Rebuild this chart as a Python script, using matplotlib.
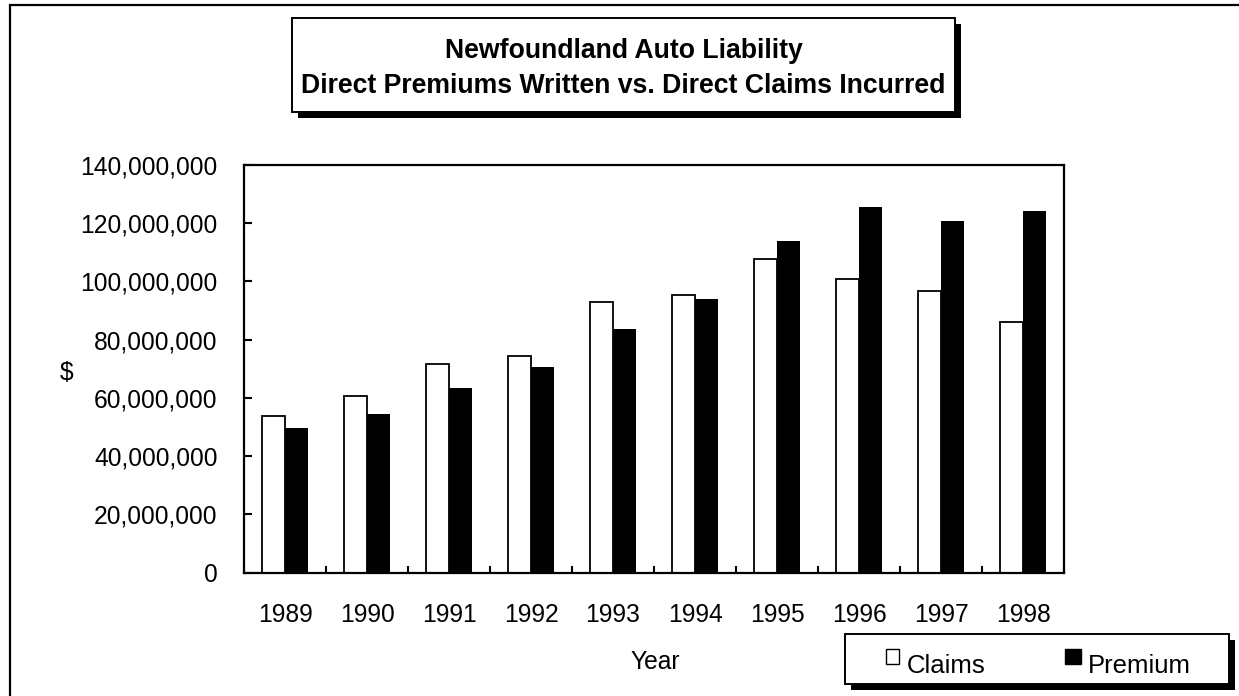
import matplotlib.pyplot as plt
from matplotlib.patches import Rectangle
import numpy as np

plt.rcParams['font.family'] = ['Liberation Sans', 'DejaVu Sans']

years = ['1989', '1990', '1991', '1992', '1993', '1994', '1995', '1996', '1997', '1998']
claims = [53.8, 60.7, 71.7, 74.5, 93.1, 95.2, 107.7, 100.7, 96.6, 86.2]      # millions $
premium = [49.8, 54.6, 63.4, 70.5, 83.6, 93.9, 114.0, 125.7, 120.9, 124.3]  # millions $
yticks = [0, 20, 40, 60, 80, 100, 120, 140]

W, H = 1239, 696
fig = plt.figure(figsize=(W / 100, H / 100), dpi=100)
FS = 17.7


def fx(px):
    return px / W


def fy(py):
    return 1 - py / H


def box(x0, y0, x1, y1, **kw):
    # rectangle given in pixel coords (origin top-left)
    r = Rectangle((fx(x0), fy(y1)), (x1 - x0) / W, (y1 - y0) / H,
                  transform=fig.transFigure, **kw)
    fig.add_artist(r)
    return r


# outer frame (runs off the right/bottom edge like the original)
box(10, 5, 1260, 720, facecolor='none', edgecolor='black', linewidth=1.6)

ax = fig.add_axes([fx(244), fy(572.7), (1064 - 244) / W, (572.7 - 165) / H])
x = np.arange(len(years))
bw = 0.285
ax.bar(x - bw, [v * 1e6 for v in claims], width=bw, align='edge', color='white',
       edgecolor='black', linewidth=1.3)
ax.bar(x, [v * 1e6 for v in premium], width=bw, align='edge', color='black',
       edgecolor='black', linewidth=0)

ax.set_xlim(-0.5, len(years) - 0.5)
ax.set_ylim(0, 140e6)
ax.set_yticks([v * 1e6 for v in yticks])
ax.set_yticklabels([f'{v * 1000000:,}' for v in yticks], fontsize=FS)
ax.set_xticks(x)
ax.set_xticklabels(years, fontsize=FS)
ax.set_xticks(np.arange(-0.5, len(years)), minor=True)
ax.tick_params(axis='x', which='major', length=0, pad=22)
ax.tick_params(axis='x', which='minor', direction='in', length=5, width=1.5)
ax.tick_params(axis='y', direction='in', length=6, width=1.5, pad=19)
for s in ax.spines.values():
    s.set_linewidth(1.6)

fig.text(fx(67), fy(373), '$', fontsize=FS, ha='center', va='center')
fig.text(fx(655), fy(662), 'Year', fontsize=FS, ha='center', va='center')

# title box with drop shadow
box(298, 24, 961, 118, facecolor='black', edgecolor='black', linewidth=0)
box(292, 18, 955, 112, facecolor='white', edgecolor='black', linewidth=1.4)
fig.text(fx(623.5), fy(51), 'Newfoundland Auto Liability', fontsize=19.2,
         fontweight='bold', ha='center', va='center')
fig.text(fx(623.5), fy(86), 'Direct Premiums Written vs. Direct Claims Incurred',
         fontsize=19.2, fontweight='bold', ha='center', va='center')

# legend box with drop shadow
box(851, 640, 1235, 690, facecolor='black', edgecolor='black', linewidth=0)
box(845, 634, 1229, 684, facecolor='white', edgecolor='black', linewidth=1.4)
box(886, 649, 899, 664, facecolor='white', edgecolor='black', linewidth=1.0)
fig.text(fx(907), fy(673), 'Claims', fontsize=18.5, ha='left', va='baseline')
box(1065, 649, 1081, 664, facecolor='black', edgecolor='black', linewidth=1.0)
fig.text(fx(1088), fy(673), 'Premium', fontsize=18.5, ha='left', va='baseline')

fig.savefig('out.png', dpi=100, facecolor='white')
